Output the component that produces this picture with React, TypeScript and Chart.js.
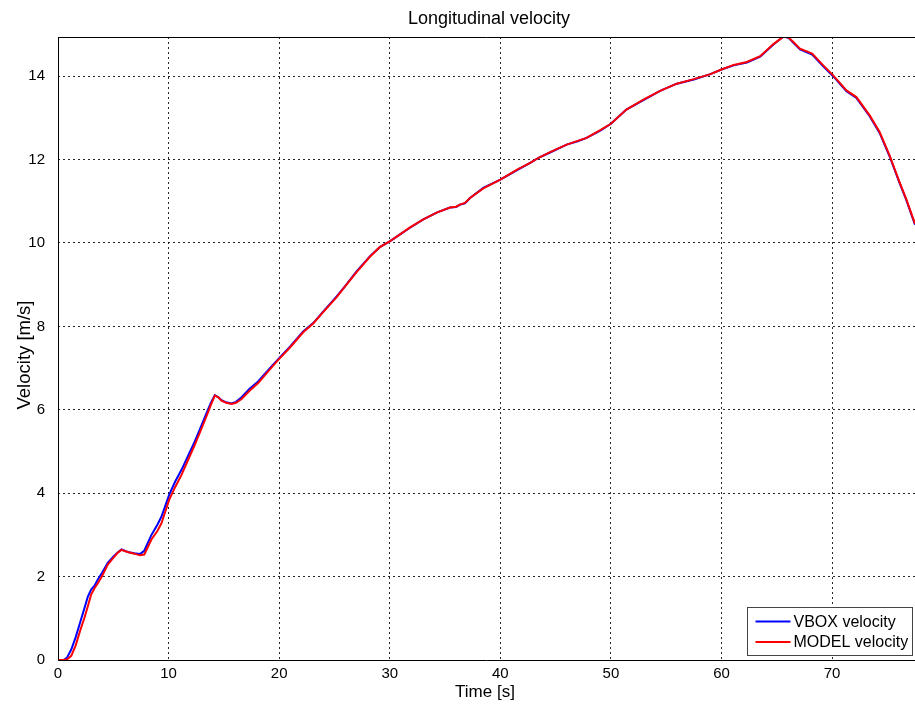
import React, { useEffect, useRef } from "react";
import { Chart, registerables } from "chart.js";

Chart.register(...registerables);

const TITLE = "Longitudinal velocity";
const X_LABEL = "Time [s]";
const Y_LABEL = "Velocity [m/s]";
const SERIES_NAMES = ["VBOX velocity", "MODEL velocity"];
const SERIES_COLORS = ["#0000ff", "#ff0000"];

const X_MIN = 0;
const X_MAX = 77.5;
const Y_MIN = 0;
const Y_MAX = 14.94;
const X_STEP = 10;
const Y_STEP = 2;

const TIME = [
  0, 0.5, 0.8, 1.2, 1.6, 2.0, 2.4, 2.7, 3.0, 3.3, 3.6, 4.0, 4.5, 5.0, 5.4, 5.74,
  6.3, 6.9, 7.4, 7.8, 8.45, 9.0, 9.36, 10.05, 10.6, 11.17, 11.8, 12.37, 12.9,
  13.43, 13.8, 14.18, 14.5, 14.79, 15.2, 15.7, 16.1, 16.6, 17.3, 18.1, 19.16,
  20.0, 21.0, 22.17, 23.08, 24.0, 25.2, 26.0, 27.0, 28.2, 29.1, 30.0, 31.0,
  31.8, 33.0, 34.24, 35.45, 36.0, 36.35, 36.8, 37.26, 38.46, 40.0, 41.6, 42.7,
  43.5, 44.5, 46.0, 47.0, 47.8, 49.0, 50.0, 51.4, 52.9, 54.45, 55.96, 57.5,
  59.0, 60.0, 61.1, 62.3, 63.5, 64.7, 65.6, 66.06, 66.5, 67.1, 68.2, 69.2,
  70.1, 71.3, 72.2, 73.4, 74.3, 75.2, 76.1, 76.7, 77.5,
];

const VBOX = [
  0, 0, 0.05, 0.25, 0.55, 0.9, 1.25, 1.52, 1.69, 1.78, 1.93, 2.1, 2.33, 2.48,
  2.58, 2.65, 2.59, 2.56, 2.54, 2.62, 3.0, 3.25, 3.44, 3.96, 4.28, 4.56, 4.92,
  5.24, 5.58, 5.92, 6.15, 6.35, 6.3, 6.23, 6.18, 6.15, 6.19, 6.3, 6.5, 6.68,
  7.0, 7.24, 7.52, 7.88, 8.08, 8.36, 8.72, 8.98, 9.32, 9.68, 9.9, 10.04, 10.22,
  10.36, 10.56, 10.73, 10.85, 10.86, 10.92, 10.95, 11.08, 11.32, 11.52, 11.76,
  11.92, 12.05, 12.17, 12.36, 12.44, 12.52, 12.69, 12.86, 13.2, 13.42, 13.65,
  13.82, 13.92, 14.05, 14.16, 14.26, 14.33, 14.47, 14.76, 14.95, 14.92, 14.8,
  14.64, 14.52, 14.24, 14.0, 13.64, 13.48, 13.04, 12.64, 12.08, 11.44, 11.04,
  10.44,
];

const MODEL = [
  0, 0, 0.01, 0.1, 0.35, 0.7, 1.02, 1.29, 1.57, 1.72, 1.84, 2.02, 2.29, 2.45,
  2.57, 2.64, 2.59, 2.55, 2.51, 2.53, 2.89, 3.1, 3.28, 3.84, 4.15, 4.44, 4.82,
  5.16, 5.5, 5.85, 6.1, 6.34, 6.3, 6.22, 6.17, 6.14, 6.17, 6.26, 6.45, 6.64,
  6.97, 7.22, 7.5, 7.86, 8.07, 8.35, 8.7, 8.97, 9.3, 9.67, 9.9, 10.04, 10.22,
  10.37, 10.56, 10.73, 10.85, 10.87, 10.92, 10.96, 11.08, 11.31, 11.52, 11.77,
  11.92, 12.05, 12.18, 12.36, 12.45, 12.52, 12.7, 12.86, 13.2, 13.43, 13.65,
  13.82, 13.93, 14.05, 14.16, 14.27, 14.34, 14.48, 14.77, 14.95, 14.93, 14.82,
  14.66, 14.54, 14.26, 14.02, 13.66, 13.5, 13.06, 12.66, 12.1, 11.46, 11.06,
  10.46,
];

const FONT = "'Liberation Sans', Arial, sans-serif";

const framePlugin = {
  id: "matlabFrame",
  afterDatasetsDraw(chart: any) {
    const { ctx, chartArea } = chart;
    const { left, top, right, bottom } = chartArea;
    ctx.save();
    ctx.strokeStyle = "#000";
    ctx.lineWidth = 1;
    ctx.setLineDash([]);
    ctx.beginPath();
    ctx.moveTo(left + 0.5, top + 0.5);
    ctx.lineTo(right, top + 0.5);
    ctx.moveTo(left + 0.5, top);
    ctx.lineTo(left + 0.5, bottom + 0.5);
    ctx.lineTo(right, bottom + 0.5);
    ctx.stroke();
    ctx.restore();
  },
  afterDraw(chart: any) {
    const { ctx } = chart;
    ctx.save();
    ctx.fillStyle = "#000";
    ctx.font = `18px ${FONT}`;
    ctx.textAlign = "center";
    ctx.textBaseline = "alphabetic";
    ctx.fillText(TITLE, 489, 24);
    ctx.font = `17px ${FONT}`;
    ctx.fillText(X_LABEL, 485, 697);
    ctx.font = `18.5px ${FONT}`;
    ctx.save();
    ctx.translate(30, 355);
    ctx.rotate(-Math.PI / 2);
    ctx.fillText(Y_LABEL, 0, 0);
    ctx.restore();

    // legend
    const bx = 747.5;
    const by = 607.5;
    const bw = 165;
    const bh = 48;
    ctx.fillStyle = "#fff";
    ctx.fillRect(bx, by, bw, bh);
    ctx.strokeStyle = "#444";
    ctx.lineWidth = 1;
    ctx.strokeRect(bx, by, bw, bh);
    ctx.font = `16px ${FONT}`;
    ctx.textAlign = "left";
    ctx.textBaseline = "middle";
    chart.data.datasets.forEach((ds: any, i: number) => {
      const y = by + 14 + i * 20.5;
      ctx.strokeStyle = ds.borderColor;
      ctx.lineWidth = 2;
      ctx.beginPath();
      ctx.moveTo(bx + 8, y);
      ctx.lineTo(bx + 43, y);
      ctx.stroke();
      ctx.fillStyle = "#000";
      ctx.fillText(ds.label, bx + 46, y + 1);
    });
    ctx.restore();
  },
};

export default function App() {
  const ref = useRef<HTMLCanvasElement>(null);

  useEffect(() => {
    const canvas = ref.current;
    if (!canvas) return;
    const chart = new Chart(canvas, {
      type: "line",
      data: {
        datasets: [
          {
            label: SERIES_NAMES[0],
            data: TIME.map((t, i) => ({ x: t, y: VBOX[i] })),
            borderColor: SERIES_COLORS[0],
            borderWidth: 2,
            pointRadius: 0,
            tension: 0,
            fill: false,
            order: 1,
          },
          {
            label: SERIES_NAMES[1],
            data: TIME.map((t, i) => ({ x: t, y: MODEL[i] })),
            borderColor: SERIES_COLORS[1],
            borderWidth: 2,
            pointRadius: 0,
            tension: 0,
            fill: false,
            order: 0,
          },
        ],
      },
      options: {
        animation: false,
        responsive: false,
        devicePixelRatio: 1,
        events: [],
        layout: { padding: { left: 0, right: 0, top: 37, bottom: 0 } },
        plugins: {
          legend: { display: false },
          title: { display: false },
          tooltip: { enabled: false },
        },
        scales: {
          x: {
            type: "linear",
            min: X_MIN,
            max: X_MAX,
            afterFit: (s: any) => {
              s.height = 47;
              s.paddingLeft = 0;
              s.paddingRight = 0;
            },
            ticks: {
              stepSize: X_STEP,
              includeBounds: false,
              color: "#000",
              font: { family: FONT, size: 15 },
              padding: 5,
              maxRotation: 0,
              autoSkip: false,
            },
            grid: {
              color: "rgba(0,0,0,0.85)",
              lineWidth: 1,
              drawTicks: false,
            },
            border: { display: false, dash: [2, 3] },
          },
          y: {
            type: "linear",
            min: Y_MIN,
            max: Y_MAX,
            afterFit: (s: any) => {
              s.width = 58;
              s.paddingTop = 0;
              s.paddingBottom = 0;
            },
            ticks: {
              stepSize: Y_STEP,
              includeBounds: false,
              color: "#000",
              font: { family: FONT, size: 15 },
              padding: 13,
              autoSkip: false,
            },
            grid: {
              color: "rgba(0,0,0,0.85)",
              lineWidth: 1,
              drawTicks: false,
            },
            border: { display: false, dash: [2, 3] },
          },
        },
      },
      plugins: [framePlugin],
    });
    return () => chart.destroy();
  }, []);

  return (
    <div
      style={{
        position: "fixed",
        left: 0,
        top: 0,
        width: 915,
        height: 707,
        background: "#fff",
        overflow: "hidden",
      }}
    >
      <canvas ref={ref} width={915} height={707} style={{ display: "block" }} />
    </div>
  );
}
